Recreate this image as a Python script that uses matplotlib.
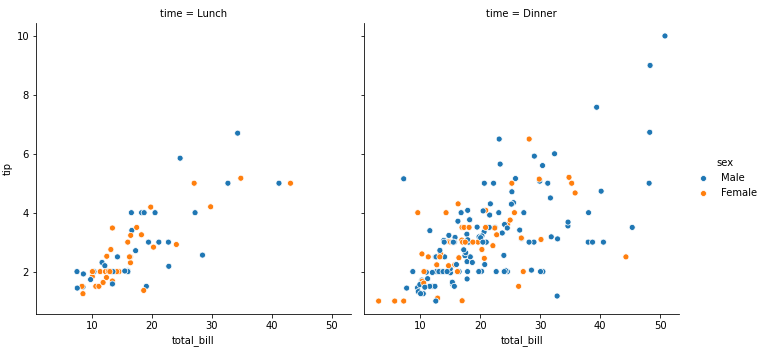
import matplotlib
matplotlib.use("Agg")
import matplotlib.pyplot as plt
from matplotlib.lines import Line2D

# ---- Lunch panel data ----
lunch_bill = [27.20, 22.76, 17.29, 19.44, 16.66, 10.07, 32.68, 15.98, 34.83, 13.03, 18.28, 24.71, 21.16,
              10.65, 12.43, 24.08, 11.69, 13.42, 14.26, 15.95, 12.48, 29.80, 8.52, 14.52, 11.38, 22.82,
              19.08, 20.27, 11.17, 12.26, 18.26, 8.51, 10.33, 14.15, 16.00, 13.16, 17.47, 34.30, 41.19,
              27.05, 16.43, 8.35, 18.64, 11.87, 9.78, 7.51,
              19.81, 28.44, 15.48, 16.58, 7.56, 10.34, 43.11, 13.00, 13.51, 18.71, 12.74, 13.00, 16.40,
              20.53, 16.47,
              12.16, 13.42, 8.58, 15.98, 13.42, 16.27, 10.09]
lunch_tip = [4.00, 3.00, 2.71, 3.00, 3.40, 1.83, 5.00, 2.03, 5.17, 2.00, 4.00, 5.85, 3.00,
             1.50, 1.80, 2.92, 2.31, 1.68, 2.50, 2.00, 2.52, 4.20, 1.48, 2.00, 2.00, 2.18,
             1.50, 2.83, 1.50, 2.00, 3.25, 1.25, 2.00, 2.00, 2.00, 2.75, 3.50, 6.70, 5.00,
             5.00, 2.30, 1.50, 1.36, 1.63, 1.73, 2.00,
             4.19, 2.56, 2.02, 4.00, 1.44, 2.00, 5.00, 2.00, 2.00, 4.00, 2.01, 2.00, 2.50,
             4.00, 3.23,
             2.20, 3.48, 1.92, 3.00, 1.58, 2.50, 2.00]
lunch_sex = ["Male", "Male", "Male", "Male", "Male", "Female", "Male", "Male", "Female", "Male", "Male", "Male", "Male",
             "Female", "Female", "Female", "Male", "Female", "Male", "Male", "Female", "Female", "Male", "Female", "Female", "Male",
             "Male", "Female", "Female", "Female", "Female", "Female", "Female", "Female", "Male", "Female", "Female", "Male", "Male",
             "Female", "Female", "Female", "Female", "Female", "Male", "Male",
             "Female", "Male", "Male", "Male", "Male", "Male", "Female", "Female", "Male", "Male", "Female", "Female", "Female",
             "Male", "Female",
             "Male", "Female", "Male", "Female", "Male", "Female", "Female"]

# ---- Dinner panel data ----
dinner_bill = [16.99, 10.34, 21.01, 23.68, 24.59, 25.29, 8.77, 26.88, 15.04, 14.78, 10.27, 35.26, 15.42,
               18.43, 14.83, 21.58, 10.33, 16.29, 16.97, 20.65, 17.92, 20.29, 15.77, 39.42, 19.82, 17.81,
               13.37, 12.69, 21.70, 19.65, 9.55, 18.35, 15.06, 20.69, 17.78, 24.06, 16.31, 16.93, 18.69,
               31.27, 16.04, 17.46, 13.94, 9.68, 30.40, 18.29, 22.23, 32.40, 28.55, 18.04, 12.54, 10.29,
               34.81, 9.94, 25.56, 19.49, 38.01, 26.41, 11.24, 48.27, 20.29, 13.81, 11.02, 18.29, 17.59,
               20.08, 16.45, 3.07, 20.23, 15.01, 12.02, 17.07, 26.86, 25.28, 14.73, 10.51, 17.92,
               28.97, 22.49, 5.75, 16.32, 22.75, 40.17, 27.28, 12.03, 21.01, 12.46, 11.35, 15.38, 44.30,
               22.42, 20.92, 15.36, 20.49, 25.21, 18.24, 14.31, 14.00, 7.25, 38.07, 23.95, 25.71, 17.31,
               29.93,
               14.07, 13.13, 17.26, 24.55, 19.77, 29.85, 48.17, 25.00, 13.39, 16.49, 21.50, 12.66, 16.21,
               13.81, 17.51, 24.52, 20.76, 31.71, 10.59, 10.63, 50.81, 15.81, 7.25, 31.85, 16.82, 32.90,
               17.89, 14.48, 9.60, 34.63, 34.65, 23.33, 45.35, 23.17, 40.55, 20.69, 20.90, 30.46, 18.15,
               23.10, 15.69,
               26.59, 38.73, 24.27, 12.76, 30.06, 25.89, 48.33, 13.27, 28.17, 12.90, 28.15, 11.59, 7.74,
               30.14,
               20.45, 13.28, 22.12, 24.01, 15.69, 11.61, 10.77, 15.53, 10.07, 12.60, 32.83, 35.83, 29.03,
               27.18, 22.67, 17.82, 18.78]
dinner_tip = [1.01, 1.66, 3.50, 3.31, 3.61, 4.71, 2.00, 3.12, 1.96, 3.23, 1.71, 5.00, 1.57,
              3.00, 3.02, 3.92, 1.67, 3.71, 3.50, 3.35, 4.08, 2.75, 2.23, 7.58, 3.18, 2.34,
              2.00, 2.00, 4.30, 3.00, 1.45, 2.50, 3.00, 2.45, 3.27, 3.60, 2.00, 3.07, 2.31,
              5.00, 2.24, 2.54, 3.06, 1.32, 5.60, 3.00, 5.00, 6.00, 2.05, 3.00, 2.50, 2.60,
              5.20, 1.56, 4.34, 3.51, 3.00, 1.50, 1.76, 6.73, 3.21, 2.00, 1.98, 3.76, 2.64,
              3.15, 2.47, 1.00, 2.01, 2.09, 1.97, 3.00, 3.14, 5.00, 2.20, 1.25, 3.08,
              3.00, 3.50, 1.00, 4.30, 3.25, 4.73, 4.00, 1.50, 3.00, 1.50, 2.50, 3.00, 2.50,
              3.48, 4.08, 1.64, 4.06, 4.29, 3.76, 4.00, 3.00, 1.00, 4.00, 2.55, 4.00, 3.50,
              5.07,
              2.50, 2.00, 2.74, 2.00, 2.00, 5.14, 5.00, 3.75, 2.61, 2.00, 3.50, 2.50, 2.00,
              2.00, 3.00, 3.48, 2.24, 4.50, 1.61, 2.00, 10.00, 3.16, 5.15, 3.18, 4.00, 3.11,
              2.00, 2.00, 4.00, 3.55, 3.68, 5.65, 3.50, 6.50, 3.00, 5.00, 3.50, 2.00, 3.50,
              4.00, 1.50,
              3.41, 3.00, 2.03, 2.23, 2.00, 5.16, 9.00, 2.50, 6.50, 1.10, 3.00, 1.50, 1.44,
              3.09,
              3.00, 2.72, 2.88, 2.00, 3.00, 3.39, 1.47, 3.00, 1.25, 1.00, 1.17, 4.67, 5.92,
              2.00, 2.00, 1.75, 3.00]
M, F = "Male", "Female"
dinner_sex = [F, M, M, M, F, M, M, M, M, M, M, F, M,
              M, F, M, F, M, F, M, M, F, F, M, M, M,
              M, M, M, F, M, M, F, F, M, M, M, F, M,
              M, M, M, M, M, M, M, M, M, M, M, M, F,
              F, M, M, M, M, F, M, M, M, M, M, M, M,
              M, F, F, M, M, M, F, F, F, F, M, M,
              M, M, F, F, F, M, M, M, M, M, F, F, F,
              F, F, M, M, M, M, F, M, F, M, M, F, F,
              M,
              M, M, M, M, M, F, M, F, F, M, M, M, F,
              M, F, M, M, M, F, F, M, M, M, M, M, M,
              M, M, F, M, M, M, M, M, M, M, F, M, F,
              M, M,
              M, M, M, F, M, M, M, F, F, F, M, M, M,
              F,
              M, M, F, M, M, M, M, M, M, M, M, F, M,
              F, M, M, F]

panel_titles = ["time = Lunch", "time = Dinner"]
sex_levels = ["Male", "Female"]
palette = {"Male": "#1f77b4", "Female": "#ff7f0e"}

W, H = 768, 356
fig = plt.figure(figsize=(W / 72, H / 72), dpi=72)
ax1 = fig.add_axes([36 / W, 1 - 314.3 / H, 315 / W, 291.6 / H])
ax2 = fig.add_axes([364.3 / W, 1 - 314.3 / H, 315 / W, 291.6 / H], sharex=ax1, sharey=ax1)

for ax, bills, tips, sexes, title in [(ax1, lunch_bill, lunch_tip, lunch_sex, panel_titles[0]),
                                      (ax2, dinner_bill, dinner_tip, dinner_sex, panel_titles[1])]:
    cols = [palette[s] for s in sexes]
    ax.scatter(bills, tips, c=cols, s=36, edgecolors="white", linewidths=0.75, zorder=2)
    ax.set_title(title, fontsize=10)
    ax.set_xlabel("total_bill", fontsize=10)
    ax.spines["top"].set_visible(False)
    ax.spines["right"].set_visible(False)
    ax.tick_params(labelsize=10)

ax1.set_ylabel("tip", fontsize=10)
ax2.tick_params(labelleft=False)
ax1.set_xticks([10, 20, 30, 40, 50])
ax1.set_yticks([2, 4, 6, 8, 10])
ax1.set_xlim(0.68, 53.2)
ax1.set_ylim(0.55, 10.45)

handles = [Line2D([], [], marker="o", linestyle="", markersize=6, markerfacecolor=palette[s],
                  markeredgecolor="white", markeredgewidth=0.75) for s in sex_levels]
fig.legend(handles, sex_levels, title="sex", loc="center left", bbox_to_anchor=(684 / W, 0.5),
           frameon=False, fontsize=10, title_fontsize=10)

fig.savefig("out.png", dpi=72)
